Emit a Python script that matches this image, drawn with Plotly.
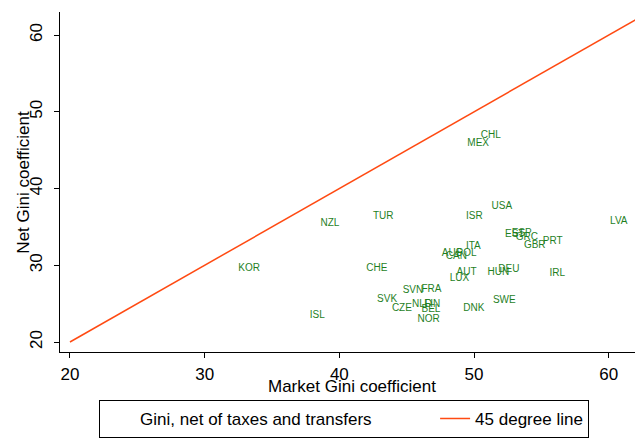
import plotly.graph_objects as go

# Country codes with market (pre-tax) and net (post-tax/transfer) Gini coefficients
countries = ["KOR", "NZL", "TUR", "CHE", "SVK", "CZE", "SVN", "ISL", "CHL", "MEX",
             "USA", "ISR", "LVA", "EST", "ESP", "GRC", "GBR", "PRT", "ITA", "AUS",
             "CAN", "POL", "AUT", "LUX", "HUN", "DEU", "IRL", "FRA", "SWE", "DNK",
             "FIN", "NLD", "BEL", "NOR"]
market_gini = [32.5, 38.6, 42.5, 42.0, 42.8, 43.9, 44.7, 37.8, 50.5, 49.5,
               51.3, 49.4, 60.1, 52.3, 52.8, 53.1, 53.7, 55.1, 49.4, 47.6,
               47.9, 48.7, 48.7, 48.2, 51.0, 51.8, 55.6, 46.1, 51.4, 49.2,
               46.3, 45.4, 46.1, 45.8]
net_gini = [29.6, 35.5, 36.4, 29.6, 25.6, 24.4, 26.7, 23.4, 46.9, 45.9,
            37.6, 36.4, 35.7, 34.0, 34.2, 33.6, 32.6, 33.1, 32.5, 31.5,
            31.2, 31.5, 29.1, 28.3, 29.0, 29.4, 28.9, 26.8, 25.4, 24.4,
            24.9, 24.9, 24.3, 22.9]

# 45 degree reference line
line_x = [20, 63]
line_y = [20, 63]

x_ticks = [20, 30, 40, 50, 60]
y_ticks = [20, 30, 40, 50, 60]

label_color = "#1f7f1f"
line_color = "#ff4a12"
font_family = "Liberation Sans, Arial, sans-serif"

fig = go.Figure()

fig.add_trace(go.Scatter(
    x=market_gini, y=net_gini, text=countries,
    mode="text", textposition="middle right",
    textfont=dict(color=label_color, size=10, family=font_family),
    showlegend=False, hoverinfo="text",
))

# Legend entry for the labelled countries (no symbol)
fig.add_trace(go.Scatter(
    x=[None], y=[None], mode="lines",
    line=dict(color="rgba(0,0,0,0)", width=1),
    name="Gini, net of taxes and transfers",
    legendwidth=290,
))

fig.add_trace(go.Scatter(
    x=line_x, y=line_y, mode="lines",
    line=dict(color=line_color, width=1.5),
    name="45 degree line",
))

axis_common = dict(
    showgrid=False, zeroline=False,
    showline=True, linecolor="black", linewidth=1,
    ticks="outside", ticklen=5, tickcolor="black", tickwidth=1,
    tickfont=dict(size=17, color="black", family=font_family),
    mirror=False, automargin=False,
)

fig.update_layout(
    width=635, height=439,
    margin=dict(l=60, r=0, t=12, b=87),
    paper_bgcolor="white", plot_bgcolor="white",
    font=dict(family=font_family, color="black"),
    xaxis=dict(range=[19.26, 61.95], tickvals=x_ticks, ticklabelstandoff=2, **axis_common),
    yaxis=dict(range=[18.7, 63.0], tickvals=y_ticks, tickangle=-90,
               ticklabelstandoff=5, **axis_common),
    legend=dict(
        orientation="h", x=0.068, xanchor="left", y=-0.141, yanchor="top",
        bordercolor="black", borderwidth=1, bgcolor="white",
        font=dict(size=17, color="black", family=font_family),
    ),
    annotations=[
        dict(text="Market Gini coefficient", xref="paper", yref="paper",
             x=0.508, y=-0.1, xanchor="center", yanchor="middle", showarrow=False,
             font=dict(size=17, color="black", family=font_family)),
        dict(text="Net Gini coefficient", xref="paper", yref="paper",
             x=-0.065, y=0.5, xanchor="center", yanchor="middle", showarrow=False,
             textangle=-90,
             font=dict(size=17, color="black", family=font_family)),
    ],
)

fig.write_html("out.html")
